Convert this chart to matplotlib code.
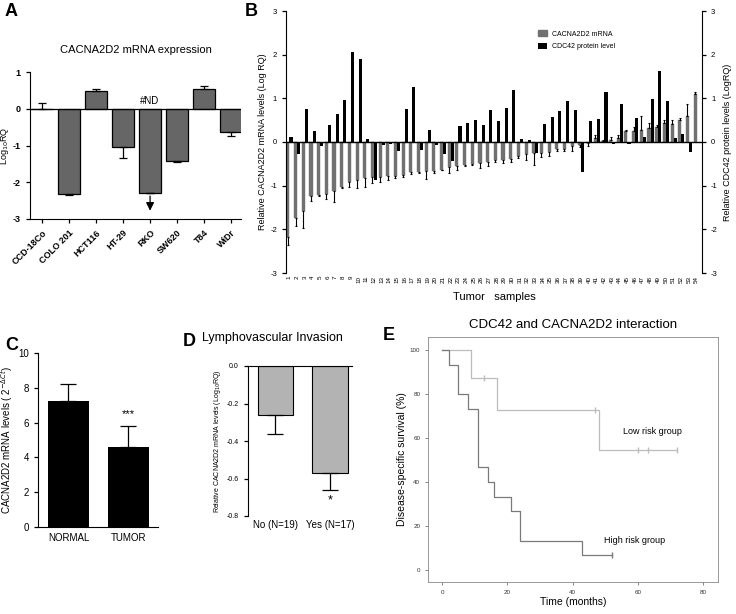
import numpy as np
import matplotlib
matplotlib.use("Agg")
import matplotlib.pyplot as plt
from matplotlib.patches import Patch

plt.rcParams['font.family'] = ['Liberation Sans', 'DejaVu Sans']
plt.rcParams['axes.unicode_minus'] = False

# ---- data ----
# A: cell lines
cell_lines = ['CCD-18Co', 'COLO 201', 'HCT116', 'HT-29', 'RKO', 'SW620', 'T84', 'WiDr']
cell_vals = [0.0, -2.32, 0.47, -1.05, -2.30, -1.42, 0.55, -0.63]
cell_err = [0.17, 0.04, 0.06, 0.30, 0.0, 0.03, 0.07, 0.12]

# B: tumor samples
samples = [str(i) for i in range(1, 55)]
mrna_vals = [-2.18, -1.75, -1.57, -1.23, -1.22, -1.18, -1.12, -1.02, -0.92, -0.88,
             -0.82, -0.80, -0.80, -0.78, -0.78, -0.75, -0.68, -0.68, -0.66, -0.67,
             -0.63, -0.58, -0.55, -0.52, -0.50, -0.48, -0.45, -0.42, -0.42, -0.38,
             -0.32, -0.28, -0.26, -0.26, -0.24, -0.16, -0.15, -0.10, -0.07, -0.02,
             0.10, 0.02, 0.04, 0.10, 0.25, 0.25, 0.27, 0.33, 0.35, 0.44,
             0.42, 0.50, 0.60, 1.10]
mrna_err = [0.17, 0.18, 0.41, 0.12, 0.02, 0.12, 0.26, 0.03, 0.10, 0.17,
            0.21, 0.15, 0.12, 0.08, 0.05, 0.05, 0.05, 0.04, 0.19, 0.03,
            0.02, 0.12, 0.10, 0.03, 0.03, 0.11, 0.11, 0.03, 0.05, 0.08,
            0.04, 0.14, 0.26, 0.09, 0.08, 0.04, 0.05, 0.10, 0.05, 0.08,
            0.05, 0.02, 0.08, 0.07, 0.03, 0.10, 0.33, 0.11, 0.05, 0.06,
            0.08, 0.06, 0.26, 0.04]
protein_vals = [0.12, -0.27, 0.75, 0.26, -0.09, 0.40, 0.63, 0.97, 2.06, 1.90,
                0.08, -0.86, -0.07, -0.05, -0.20, 0.76, 1.26, -0.18, 0.28, -0.06,
                -0.27, -0.44, 0.37, 0.43, 0.50, 0.40, 0.73, 0.48, 0.79, 1.20,
                0.06, 0.04, -0.25, 0.41, 0.57, 0.70, 0.93, 0.74, -0.68, 0.47,
                0.52, 1.15, -0.05, 0.86, -0.05, 0.55, 0.12, 0.98, 1.62, 0.94,
                0.10, 0.19, -0.22, 0.0]

# C: normal vs tumor
tissue = ['NORMAL', 'TUMOR']
tissue_vals = [7.25, 4.6]
tissue_err = [0.95, 1.2]

# D: lymphovascular invasion
lvi_groups = ['No (N=19)', 'Yes (N=17)']
lvi_vals = [-0.26, -0.57]
lvi_err = [0.10, 0.09]

# E: survival
low_t = [0, 9, 17, 48, 72]
low_s = [100, 87.5, 72.9, 54.7, 54.7]
low_cens_t = [13, 47, 60, 63, 72]
low_cens_s = [87.5, 72.9, 54.7, 54.7, 54.7]
high_t = [0, 2, 5, 8, 11, 14, 16, 21, 24, 43, 52]
high_s = [100, 93.3, 80, 73.3, 46.7, 40, 33.3, 26.7, 13.3, 6.7, 6.7]
high_cens_t = [52]
high_cens_s = [6.7]

W, H = 736, 614
fig = plt.figure(figsize=(W / 100, H / 100), dpi=100)


def px_axes(x0, y0, x1, y1):
    return fig.add_axes([x0 / W, 1 - y1 / H, (x1 - x0) / W, (y1 - y0) / H])


# ---------- A ----------
axA = px_axes(30, 72, 241, 219)
xa = np.arange(len(cell_lines))
lo = [e if v < 0 else 0 for v, e in zip(cell_vals, cell_err)]
hi = [e if v >= 0 else 0 for v, e in zip(cell_vals, cell_err)]
axA.bar(xa, cell_vals, width=0.8, color='#666666', edgecolor='black', linewidth=0.9)
axA.errorbar(xa, cell_vals, yerr=[lo, hi], fmt='none', ecolor='black', elinewidth=0.9, capsize=3, capthick=0.9)
axA.axhline(0, color='black', linewidth=0.9)
axA.annotate('', xy=(4, -2.85), xytext=(4, -2.3),
             arrowprops=dict(arrowstyle='-|>', color='black', lw=0.9, mutation_scale=12))
axA.text(4, 0.08, '#ND', ha='center', va='bottom', fontsize=7)
axA.set_xlim(-0.45, 7.37)
axA.set_ylim(-3, 1)
axA.set_yticks([1, 0, -1, -2, -3])
axA.set_xticks(xa)
axA.set_xticklabels(cell_lines, rotation=45, ha='right', rotation_mode='anchor', fontsize=6.5, fontweight='bold')
axA.tick_params(labelsize=6.5, width=0.9, length=3)
for lab in axA.get_yticklabels():
    lab.set_fontweight('bold')
axA.spines['top'].set_visible(False)
axA.spines['right'].set_visible(False)
axA.set_ylabel('Log$_{10}$RQ', fontsize=6.5, labelpad=1)
axA.set_title('CACNA2D2 mRNA expression', fontsize=8, pad=14)
fig.text(5 / W, 1 - 12 / H, 'A', fontsize=13, fontweight='bold', va='center')

# ---------- B ----------
axB = px_axes(286, 11, 702, 273)
xb = np.arange(1, len(samples) + 1)
bw = 0.4
m_lo = [e if v < 0 else 0 for v, e in zip(mrna_vals, mrna_err)]
m_hi = [e if v >= 0 else 0 for v, e in zip(mrna_vals, mrna_err)]
axB.bar(xb - bw / 2, mrna_vals, width=bw, color='#707070', edgecolor='#707070', linewidth=0.3, label='CACNA2D2 mRNA')
axB.errorbar(xb - bw / 2, mrna_vals, yerr=[m_lo, m_hi], fmt='none', ecolor='black', elinewidth=0.8, capsize=1, capthick=0.8)
axB.bar(xb + bw / 2, protein_vals, width=bw, color='black', label='CDC42 protein level')
axB.axhline(0, color='black', linewidth=1.0)
axB.set_xlim(0.55, 54.7)
axB.set_ylim(-3, 3)
axB.set_yticks([3, 2, 1, 0, -1, -2, -3])
axB.set_xticks(xb)
axB.set_xticklabels(samples, rotation=90, fontsize=4.5)
axB.tick_params(axis='x', length=0, pad=2)
axB.tick_params(axis='y', labelsize=5.5, width=0.9, length=3)
axB.spines['top'].set_visible(False)
axB.spines['bottom'].set_visible(False)
axB.spines['right'].set_visible(False)
axB.set_ylabel('Relative CACNA2D2 mRNA levels (Log RQ)', fontsize=6.5, labelpad=2)
axB.set_xlabel('Tumor   samples', fontsize=8, labelpad=7)
axB.legend(handles=[Patch(facecolor='#707070', edgecolor='#707070'), Patch(facecolor='black')],
           labels=['CACNA2D2 mRNA', 'CDC42 protein level'], loc='upper left',
           bbox_to_anchor=(0.59, 0.95), frameon=False, fontsize=5,
           handlelength=1.3, handleheight=0.9, labelspacing=0.8)
axB2 = axB.twinx()
axB2.set_ylim(-3, 3)
axB2.set_yticks([3, 2, 1, 0, -1, -2, -3])
axB2.tick_params(axis='y', labelsize=5.5, width=0.9, length=3)
for s in ['top', 'bottom', 'left']:
    axB2.spines[s].set_visible(False)
axB2.set_ylabel('Relative CDC42 protein levels (LogRQ)', fontsize=6.5, labelpad=4)
fig.text(245 / W, 1 - 12 / H, 'B', fontsize=13, fontweight='bold', va='center')

# ---------- C ----------
axC = px_axes(38, 353, 158, 527)
xc = np.arange(len(tissue))
axC.bar(xc, tissue_vals, width=0.69, color='black')
axC.errorbar(xc, tissue_vals, yerr=[[0, 0], tissue_err], fmt='none', ecolor='black', elinewidth=0.9, capsize=6, capthick=0.9)
axC.text(1, 6.2, '***', ha='center', va='bottom', fontsize=8)
axC.set_xlim(-0.51, 1.5)
axC.set_ylim(0, 10)
axC.set_yticks([0, 2, 4, 6, 8, 10])
axC.set_xticks(xc)
axC.set_xticklabels(tissue, fontsize=7)
axC.tick_params(axis='x', length=0, pad=4)
axC.tick_params(axis='y', labelsize=7, width=0.9, length=3)
axC.spines['top'].set_visible(False)
axC.spines['right'].set_visible(False)
axC.set_ylabel('CACNA2D2 mRNA levels ( 2$^{-\\Delta Ct}$)', fontsize=7, labelpad=2)
fig.text(5 / W, 1 - 345 / H, 'C', fontsize=13, fontweight='bold', va='center')

# ---------- D ----------
axD = px_axes(248, 366, 352, 516)
xd = np.arange(len(lvi_groups))
axD.bar(xd, lvi_vals, width=0.65, color='#b3b3b3', edgecolor='black', linewidth=0.8)
axD.errorbar(xd, lvi_vals, yerr=[lvi_err, [0, 0]], fmt='none', ecolor='black', elinewidth=0.9, capsize=6, capthick=0.9)
axD.text(1, -0.715, '*', ha='center', va='center', fontsize=9)
axD.set_xlim(-0.5, 1.4)
axD.set_ylim(-0.8, 0)
axD.set_yticks([0.0, -0.2, -0.4, -0.6, -0.8])
axD.set_yticklabels(['0.0', '-0.2', '-0.4', '-0.6', '-0.8'])
axD.set_xticks(xd)
axD.set_xticklabels(lvi_groups, fontsize=7)
axD.tick_params(axis='x', length=0, pad=3)
axD.tick_params(axis='y', labelsize=5, width=0.9, length=3)
axD.spines['bottom'].set_visible(False)
axD.spines['right'].set_visible(False)
axD.set_ylabel('Relative CACNA2D2 mRNA levels (Log$_{10}$RQ)', fontsize=5, labelpad=3)
fig.text(202 / W, 1 - 338 / H, 'Lymphovascular Invasion', fontsize=9, va='center')
fig.text(183 / W, 1 - 342 / H, 'D', fontsize=13, fontweight='bold', va='center')

# ---------- E ----------
axE = px_axes(428, 337, 718, 582)
axE.step(low_t, low_s, where='post', color='#bdbdbd', linewidth=0.9)
axE.plot(low_cens_t, low_cens_s, '|', color='#bdbdbd', markersize=4)
axE.step(high_t, high_s, where='post', color='#7a7a7a', linewidth=0.9)
axE.plot(high_cens_t, high_cens_s, '|', color='#7a7a7a', markersize=4)
axE.text(55.5, 63, 'Low risk group', fontsize=6.5, va='center')
axE.text(49.7, 13.5, 'High risk group', fontsize=6.5, va='center')
axE.set_xlim(-4.3, 84.6)
axE.set_ylim(-5.5, 106)
axE.set_xticks([0, 20, 40, 60, 80])
axE.set_yticks([0, 20, 40, 60, 80, 100])
axE.tick_params(labelsize=4.5, width=0.5, length=2, color='#555555', labelcolor='#333333')
for s in axE.spines.values():
    s.set_color('#888888')
    s.set_linewidth(0.6)
axE.set_ylabel('Disease-specific survival (%)', fontsize=7.5, labelpad=2)
axE.set_xlabel('Time (months)', fontsize=7.5, labelpad=2)
fig.text(573 / W, 1 - 325 / H, 'CDC42 and CACNA2D2 interaction', fontsize=9.5, ha='center', va='center')
fig.text(383 / W, 1 - 336 / H, 'E', fontsize=13, fontweight='bold', va='center')

fig.savefig('out.png', dpi=100)
